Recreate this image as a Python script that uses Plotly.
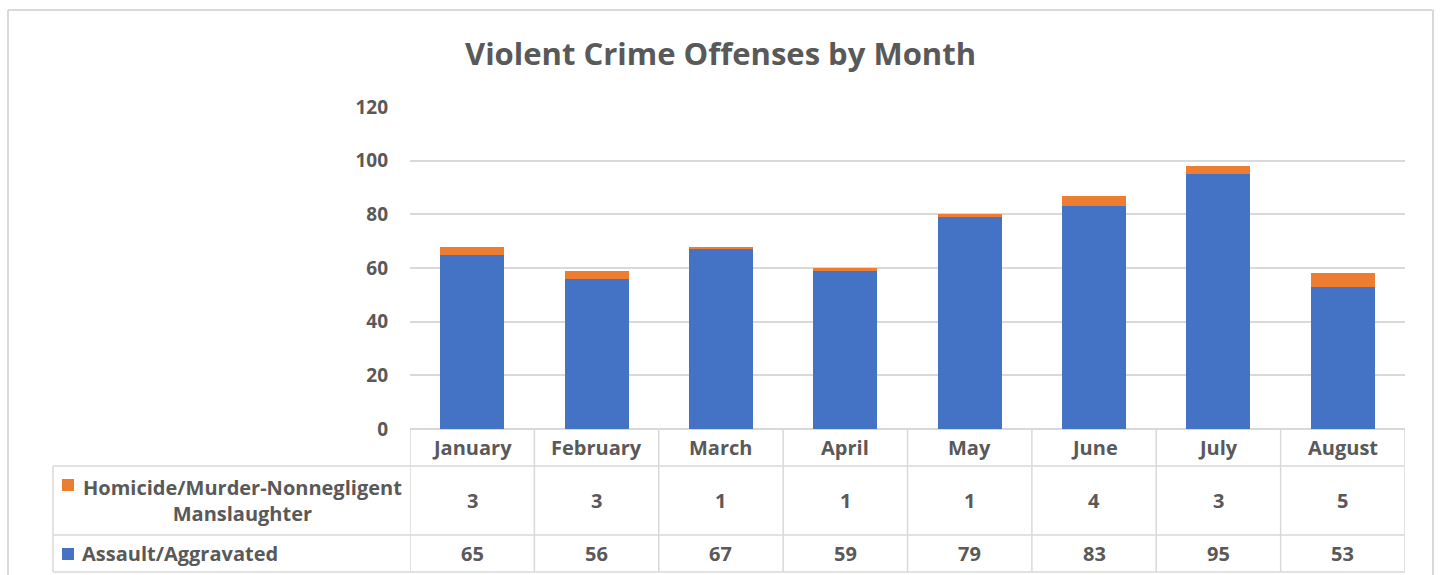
import plotly.graph_objects as go

months = ["January", "February", "March", "April", "May", "June", "July", "August"]
assault = [65, 56, 67, 59, 79, 83, 95, 53]
homicide = [3, 3, 1, 1, 1, 4, 3, 5]
series_names = ["Homicide/Murder-Nonnegligent<br>Manslaughter", "Assault/Aggravated"]
y_ticks = [0, 20, 40, 60, 80, 100, 120]

W, H = 1440, 575
BLUE = "#4472C4"
ORANGE = "#ED7D31"
TXT = "#595959"
GRID = "#D9D9D9"
FONT = "Open Sans"

def py(p):
    return 1 - p / H

def px(p):
    return p / W

x_left, x_right = 410, 1405
y_top, y_zero = 107, 429

fig = go.Figure()
fig.add_bar(x=months, y=assault, name="Assault/Aggravated", marker_color=BLUE,
            marker_line_width=0)
fig.add_bar(x=months, y=homicide, name="Homicide", marker_color=ORANGE,
            marker_line_width=0)

shapes = []
annotations = []
n = len(months)

row_hdr = (429, 466)
row_h = (466, 535)
row_a = (535, 572)
leg_left = 53

line = dict(color=GRID, width=1.5)
for yy, x0 in [(466, leg_left), (535, leg_left), (572, leg_left)]:
    shapes.append(dict(type="line", xref="paper", yref="paper", x0=px(x0), x1=px(x_right),
                       y0=py(yy), y1=py(yy), line=line, layer="above"))
for i in range(n + 1):
    shapes.append(dict(type="line", xref="x", yref="paper", x0=i - 0.5, x1=i - 0.5,
                       y0=py(429), y1=py(572), line=line))
shapes.append(dict(type="line", xref="paper", yref="paper", x0=px(leg_left), x1=px(leg_left),
                   y0=py(466), y1=py(572), line=line))
border = dict(color=GRID, width=2)
shapes.append(dict(type="line", xref="paper", yref="paper", x0=px(8), x1=px(8),
                   y0=0, y1=py(10), line=border))
shapes.append(dict(type="line", xref="paper", yref="paper", x0=px(8), x1=px(1433),
                   y0=py(10), y1=py(10), line=border))
shapes.append(dict(type="line", xref="paper", yref="paper", x0=px(1433), x1=px(1433),
                   y0=0, y1=py(10), line=border))
shapes.append(dict(type="rect", xref="paper", yref="paper", x0=px(62), x1=px(74),
                   y0=py(491), y1=py(479), fillcolor=ORANGE, line_width=0))
shapes.append(dict(type="rect", xref="paper", yref="paper", x0=px(62), x1=px(74),
                   y0=py(560), y1=py(548), fillcolor=BLUE, line_width=0))

tfont = dict(family=FONT, size=20, color=TXT, weight=700)
for i, m in enumerate(months):
    annotations.append(dict(x=m, xref="x", y=py(sum(row_hdr) / 2), yref="paper", text=m,
                            showarrow=False, font=tfont, xanchor="center", yanchor="middle"))
    annotations.append(dict(x=m, xref="x", y=py(sum(row_h) / 2), yref="paper", text=str(homicide[i]),
                            showarrow=False, font=tfont, xanchor="center", yanchor="middle"))
    annotations.append(dict(x=m, xref="x", y=py(sum(row_a) / 2), yref="paper", text=str(assault[i]),
                            showarrow=False, font=tfont, xanchor="center", yanchor="middle"))

annotations.append(dict(x=px(242), xref="paper", y=py(sum(row_h) / 2), yref="paper",
                        text=series_names[0], showarrow=False, font=tfont, align="center",
                        xanchor="center", yanchor="middle"))
annotations.append(dict(x=px(80), xref="paper", y=py(sum(row_a) / 2), yref="paper",
                        text=series_names[1], showarrow=False, font=tfont, align="left",
                        xanchor="left", yanchor="middle"))
annotations.append(dict(x=px(720), xref="paper", y=py(53), yref="paper",
                        text="Violent Crime Offenses by Month", showarrow=False,
                        font=dict(family=FONT, size=31, color=TXT, weight=700),
                        xanchor="center", yanchor="middle"))

fig.update_layout(
    width=W, height=H,
    margin=dict(l=0, r=0, t=0, b=0, autoexpand=False),
    paper_bgcolor="white", plot_bgcolor="white",
    barmode="stack", bargap=0.485,
    showlegend=False,
    shapes=shapes, annotations=annotations,
    xaxis=dict(domain=[px(x_left), px(x_right)], range=[-0.5, n - 0.5],
               showticklabels=False, showgrid=False, zeroline=False,
               showline=False, fixedrange=True, automargin=False),
    yaxis=dict(domain=[py(y_zero), py(y_top)], range=[0, 120], tickvals=y_ticks,
               showgrid=True, gridcolor=GRID, gridwidth=1.5, zeroline=True,
               zerolinecolor=GRID, zerolinewidth=1.5, showline=False, automargin=False,
               tickfont=dict(family=FONT, size=19, color=TXT, weight=700),
               ticklabelstandoff=21),
)

fig.write_html("out.html")
